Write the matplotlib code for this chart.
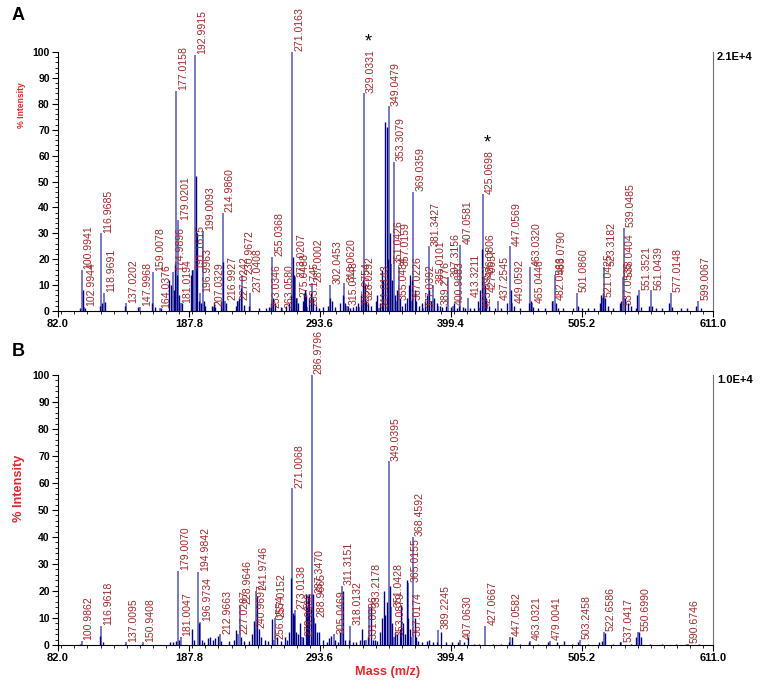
import matplotlib
matplotlib.use("Agg")
import matplotlib.pyplot as plt
from matplotlib.ticker import MultipleLocator, FixedLocator

plt.rcParams['font.family'] = ['Liberation Sans', 'DejaVu Sans']

# ---- panel A: labelled peaks ----
a_mz = [100.9941, 102.9944, 116.9685, 118.9691, 137.0202, 147.9968, 159.0078,
        164.0376, 174.9896, 177.0158, 179.0201, 181.0194, 191.1615, 192.9915,
        196.9963, 199.0093, 207.0329, 214.9860, 216.9927, 227.0242, 230.9672,
        237.0408, 253.0346, 255.0368, 263.0580, 271.0163, 273.0207, 275.0488,
        283.1745, 287.0002, 302.0453, 313.0620, 315.0748, 325.2754, 328.0292,
        329.0331, 341.0143, 349.0479, 351.0426, 353.3079, 355.0484, 357.0159,
        367.0226, 369.0359, 377.0392, 381.3427, 385.0101, 389.2776, 397.3156,
        400.9683, 407.0581, 413.3211, 423.0953, 425.0698, 426.0806, 427.0657,
        437.2545, 447.0569, 449.0592, 463.0320, 465.0446, 482.0566, 483.0790,
        501.0860, 521.0425, 523.3182, 537.0535, 538.0404, 539.0485, 551.3521,
        561.0439, 577.0148, 599.0067]
a_int = [16, 1.5, 30, 7, 3, 1.5, 15,
         1, 15, 85, 35, 3, 16, 99,
         7, 31, 1.5, 38, 4, 4, 14,
         7, 1, 21, 1, 100, 13, 5,
         1.5, 11, 10, 11, 2, 1.5, 4,
         84, 1, 79, 18, 57.5, 4, 17,
         4, 46, 1, 25, 10, 2, 13,
         2, 25.5, 5, 1, 45, 13, 7,
         4, 25, 3, 17, 3, 4, 14,
         7, 5, 17, 2, 13, 32, 8,
         8, 7, 4]

# ---- panel A: unlabelled cluster peaks ----
a_minor_mz = [99.5, 101.8, 104.0, 115.8, 117.7, 119.8, 136.2, 146.8, 158.0, 160.2,
              165.0, 172.0, 173.0, 175.8, 176.5, 178.0, 180.0, 182.5, 189.5, 190.3,
              193.5, 194.2, 195.5, 197.8, 200.2, 201.0, 206.0, 208.0, 209.0, 213.5,
              215.6, 218.0, 225.5, 226.3, 228.5, 229.5, 232.0, 236.0, 244.0, 250.0,
              252.5, 254.0, 255.8, 257.0, 262.0, 266.0, 268.5, 270.0, 272.0, 272.8,
              274.0, 276.0, 279.5, 280.8, 281.5, 282.5, 284.5, 286.0, 288.0, 290.0,
              292.5, 296.0, 300.0, 301.3, 303.0, 305.5, 310.0, 311.8, 314.0, 316.5,
              318.0, 320.0, 322.5, 324.0, 327.0, 328.5, 330.2, 331.0, 332.5, 335.0,
              338.5, 340.0, 342.0, 343.5, 344.5, 346.2, 347.6, 348.3, 350.0, 351.8,
              354.0, 356.0, 358.0, 359.5, 362.0, 364.0, 365.5, 366.5, 368.0, 370.0,
              371.5, 373.5, 376.0, 378.0, 380.0, 382.0, 383.5, 386.0, 388.0, 390.5,
              392.0, 395.0, 399.0, 402.0, 404.0, 405.5, 409.0, 411.0, 415.0, 418.0,
              421.5, 422.5, 424.2, 426.8, 428.0, 430.0, 435.0, 440.0, 445.0, 448.0,
              450.0, 455.0, 462.0, 464.0, 466.0, 470.0, 475.0, 481.0, 484.0, 486.0,
              490.0, 498.0, 502.0, 505.0, 510.0, 515.0, 519.5, 520.5, 522.0, 524.0,
              526.0, 530.0, 535.5, 536.5, 540.0, 542.0, 545.0, 549.0, 550.0, 553.0,
              559.5, 562.0, 565.0, 570.0, 575.5, 578.0, 585.0, 590.0, 597.5, 601.0]
a_minor_int = [1, 8, 1, 2, 3, 3.5, 2, 1.5, 3, 1.5,
               1, 12, 10, 8, 18, 14, 6, 3, 14, 16,
               52, 30, 4, 3, 4, 2, 2, 3.5, 1.5, 4,
               19, 3, 2, 4, 5, 9, 2.5, 2, 1, 1,
               1.5, 3, 5, 3, 1.5, 2, 3, 6, 21, 14,
               5, 3, 4, 7, 8, 6, 5, 7, 5, 2,
               1, 1.5, 2, 5, 4, 1.5, 3, 6, 3, 2,
               1, 1.5, 2, 3, 6, 12, 10, 4, 3, 2,
               4, 6, 3, 16, 12, 73, 71, 20, 30, 12,
               6, 8, 5, 2, 3, 5, 10, 14, 12, 8,
               4, 2, 3, 4, 6, 8, 4, 5, 3, 2,
               1.5, 2, 1.5, 3, 1, 2, 1.5, 1, 1, 1,
               4, 8, 24, 10, 5, 2, 1, 1, 3, 8,
               2, 1, 3, 4, 1.5, 1, 1, 4, 3, 1,
               1, 1, 2, 1, 1, 1, 3, 6, 7, 5,
               2, 1, 3, 4, 5, 3, 2, 1, 6, 1.5,
               2, 2, 1, 1, 3, 1.5, 1, 1, 2, 1]

# ---- panel B: labelled peaks ----
b_mz = [100.9862, 116.9618, 137.0095, 150.9408, 179.0070, 181.0047, 194.9842,
        196.9734, 212.9663, 227.0287, 228.9646, 240.9697, 241.9746, 256.0554,
        257.0152, 271.0068, 273.0138, 278.9988, 286.9796, 287.3470, 288.9665,
        305.0469, 311.3151, 318.0132, 331.0086, 333.2178, 349.0395, 351.0428,
        353.0879, 365.0155, 367.0174, 368.4592, 389.2245, 407.0630, 427.0667,
        447.0582, 463.0321, 479.0041, 503.2458, 522.6586, 537.0417, 550.6990,
        590.6746]
b_int = [1.5, 7, 1, 1, 27.5, 3, 27,
         8.5, 4, 4, 15, 6, 20, 2,
         10, 58, 13, 3, 100, 19, 10,
         4, 22, 7, 2, 14, 68, 14,
         3, 23, 3, 40, 5.5, 2, 7,
         3, 1.5, 1.5, 2, 5, 1, 5,
         0.5]

# ---- panel B: unlabelled cluster peaks ----
b_minor_mz = [99.5, 115.8, 118.0, 136.0, 150.0, 172.5, 175.0, 177.5, 180.0, 190.2,
              192.0, 195.8, 198.0, 200.0, 203.0, 205.0, 207.0, 209.0, 211.0, 214.0,
              220.0, 224.0, 226.0, 230.0, 232.0, 236.0, 238.5, 240.0, 242.8, 244.0,
              246.0, 249.0, 252.0, 255.0, 258.5, 262.0, 265.0, 267.0, 268.5, 270.0,
              271.8, 272.5, 274.0, 276.0, 277.5, 280.0, 282.0, 283.0, 284.0, 285.0,
              286.0, 288.0, 289.5, 291.0, 293.0, 296.0, 299.0, 301.0, 302.5, 305.5,
              308.0, 310.0, 312.5, 314.0, 317.0, 320.0, 323.0, 326.0, 327.5, 329.0,
              332.0, 335.0, 336.5, 338.0, 340.0, 342.0, 344.0, 345.5, 346.5, 348.0,
              350.0, 352.0, 354.0, 356.0, 358.0, 359.0, 360.5, 362.0, 363.5, 364.5,
              366.2, 370.0, 371.0, 373.0, 376.0, 380.0, 382.0, 385.0, 388.0, 391.0,
              395.0, 400.0, 405.0, 410.0, 413.5, 418.0, 422.0, 433.0, 440.0, 446.0,
              449.0, 455.0, 462.0, 470.0, 478.0, 485.0, 491.0, 497.0, 502.0, 510.0,
              519.0, 521.0, 523.5, 530.0, 536.0, 545.0, 549.0, 551.5, 552.5, 560.0,
              570.0, 581.0, 589.0, 600.0]
b_minor_int = [0.5, 3.5, 1, 0.5, 0.5, 1, 1, 1.5, 2, 6,
               2, 8, 2, 1, 2.5, 3, 2, 2.5, 3.5, 1.5,
               1.5, 2, 5.5, 3, 1.5, 1.5, 4, 9, 18, 6,
               3, 2, 1.5, 9.5, 3, 1.5, 3, 2, 5, 25,
               12, 11, 5, 4, 8, 3, 19, 14, 18, 19,
               14, 19, 8, 5, 5, 2, 1, 2.5, 3.5, 2,
               1, 5, 20, 2, 2, 1, 1, 2, 6, 2,
               3, 14, 2, 2, 1.5, 5, 10, 20, 11, 16,
               22, 8, 5, 4, 6, 15, 8, 4, 24, 10,
               6, 10, 3, 1.5, 1, 1.5, 2, 1, 1, 5,
               1, 1, 1, 1, 3, 0.5, 0.5, 0.5, 0.5, 1,
               3, 0.5, 1, 0.5, 1, 1, 1.5, 0.5, 1, 0.5,
               1, 1.5, 4.5, 0.5, 1, 0.5, 3, 5, 3, 0.5,
               0.5, 0.5, 0.5, 0.5]

x_ticks = [82.0, 187.8, 293.6, 399.4, 505.2, 611.0]
starred_a = [329.0331, 425.0698]

peak_color = "#5656b4"
dark_color = "#000080"
label_color = "#9c2a2c"
axis_red = "#e3262b"

W, H = 765, 684
fig = plt.figure(figsize=(W / 100, H / 100), dpi=100)


def draw_panel(ax, mz, inten, minor_mz, minor_int, scale_text):
    ax.vlines(minor_mz, 0, minor_int, color=dark_color, lw=1.0, zorder=3)
    ax.vlines(mz, 0, inten, color=peak_color, lw=1.1, zorder=2)
    for m, v in zip(mz, inten):
        ax.annotate(f"{m:.4f}", (m, v), xytext=(1.5, 0.5), textcoords="offset points",
                    rotation=90, ha="left", va="bottom", fontsize=7.6,
                    color=label_color, annotation_clip=False, zorder=4)
    ax.set_xlim(82.0, 611.0)
    ax.set_ylim(0, 100)
    ax.spines["top"].set_visible(False)
    ax.spines["right"].set_color("#707070")
    ax.xaxis.set_major_locator(FixedLocator(x_ticks))
    ax.xaxis.set_minor_locator(MultipleLocator(105.8 / 10))
    ax.set_xticklabels([f"{t:.1f}" for t in x_ticks])
    ax.yaxis.set_major_locator(MultipleLocator(10))
    ax.yaxis.set_minor_locator(MultipleLocator(2))
    ax.tick_params(which="major", length=4, width=0.8, labelsize=8)
    ax.tick_params(which="minor", length=2, width=0.6)
    ax.tick_params(axis="y", labelsize=7.5, pad=2)
    ax.tick_params(axis="x", pad=2)
    for lab in ax.get_xticklabels() + ax.get_yticklabels():
        lab.set_fontweight("bold")
    ax.text(1.006, 1.0, scale_text, transform=ax.transAxes, ha="left", va="top",
            fontsize=8, fontweight="bold")


axA = fig.add_axes([58 / W, 1 - 311 / H, 655 / W, 259 / H])
draw_panel(axA, a_mz, a_int, a_minor_mz, a_minor_int, "2.1E+4")
for m in starred_a:
    v = a_int[a_mz.index(m)]
    axA.annotate("*", (m, v), xytext=(3.5, 31), textcoords="offset points",
                 ha="center", va="bottom", fontsize=13, annotation_clip=False)

axB = fig.add_axes([58 / W, 1 - 645 / H, 655 / W, 270 / H])
draw_panel(axB, b_mz, b_int, b_minor_mz, b_minor_int, "1.0E+4")

fig.text(22 / W, 1 - 105 / H, "% Intensity", rotation=90, ha="center", va="center",
         fontsize=6.2, fontweight="bold", color=axis_red)
fig.text(19 / W, 1 - 488 / H, "% Intensity", rotation=90, ha="center", va="center",
         fontsize=9.2, fontweight="bold", color=axis_red)
fig.text(388 / W, 1 - 672 / H, "Mass (m/z)", ha="center", va="center",
         fontsize=9.2, fontweight="bold", color=axis_red)
fig.text(12 / W, 1 - 7 / H, "A", ha="left", va="top", fontsize=13, fontweight="bold")
fig.text(12 / W, 1 - 343 / H, "B", ha="left", va="top", fontsize=13, fontweight="bold")

fig.savefig("out.png", dpi=100)
